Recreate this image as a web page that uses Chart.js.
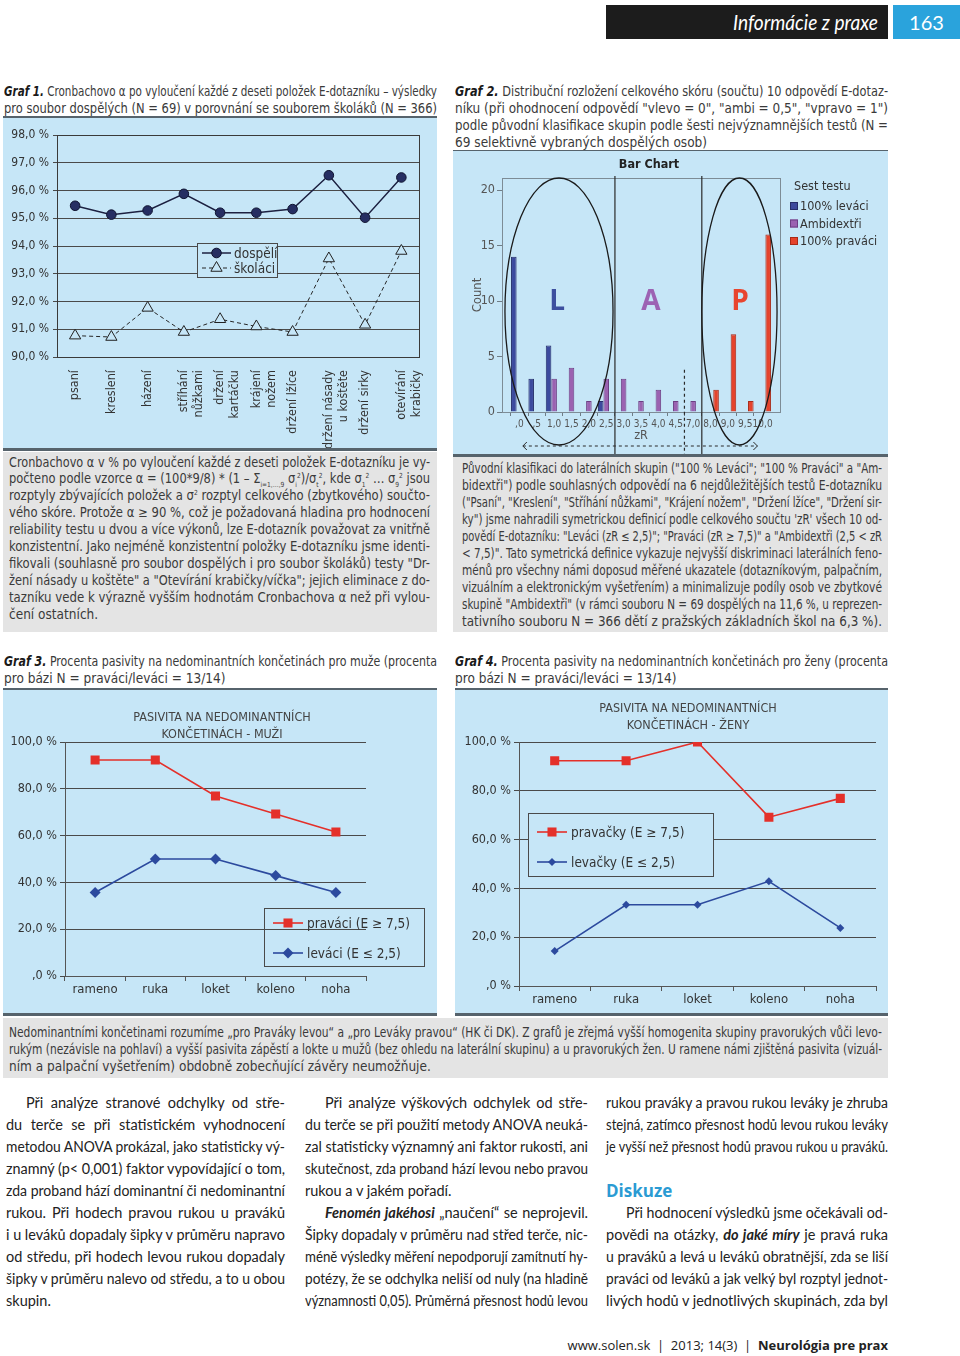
<!DOCTYPE html>
<html lang="cs">
<head>
<meta charset="utf-8">
<script src="https://cdn.jsdelivr.net/npm/chart.js@4.4.1/dist/chart.umd.min.js"></script>
<style>
  body { margin: 0; width: 960px; height: 1356px; position: relative; background: #fff; overflow: hidden;
         font-family: Lato, "Open Sans", sans-serif; color: #222; }
  .abs { position: absolute; }
  .blue { background: #c6e6f7; box-sizing: border-box; }
  .gray { background: #e4e4e4; }
  .cap { font-family: "Liberation Sans Narrow", "DejaVu Sans Condensed", Lato, sans-serif; font-size: 13.5px; color: #3a3a3a; }
  .cap b { color: #1a1a1a; }
  .body { font-size: 14.5px; color: #222; }
  .ln { white-space: nowrap; overflow: visible; }
  .ln > span { display: inline-block; transform-origin: 0 50%; }
  .ln sub, .ln sup { font-size: 7px; line-height: 0; }
  canvas { position: absolute; }
</style>
</head>
<body>

<div class="abs" style="left:606px;top:5px;width:282px;height:34px;background:#1c1c1c"></div>
<div class="abs" style="left:893px;top:5px;width:67px;height:34px;background:#2aa3dc"></div>
<div class="abs" style="left:893px;top:5px;width:67px;height:34px;line-height:34px;text-align:center;color:#fff;font-size:20px;font-family:'Liberation Sans Narrow',Lato,sans-serif">163</div>

<div class="abs blue" style="left:3px;top:116px;width:434px;height:335px;border-top:2px solid #56636c;border-bottom:3px solid #56636c"></div>
<div class="abs gray" style="left:3px;top:452px;width:434px;height:180px"></div>
<div class="abs blue" style="left:453px;top:150px;width:435px;height:307px;border-top:1px solid #56636c;border-bottom:3px solid #56636c"></div>
<div class="abs gray" style="left:453px;top:457px;width:435px;height:175px"></div>
<div class="abs blue" style="left:3px;top:688px;width:434px;height:328px;border-top:2px solid #56636c;border-bottom:3px solid #56636c"></div>
<div class="abs blue" style="left:455px;top:688px;width:433px;height:328px;border-top:2px solid #56636c;border-bottom:3px solid #56636c"></div>
<div class="abs gray" style="left:3px;top:1018px;width:885px;height:60px"></div>

<canvas id="c1" width="434" height="330" style="left:3px;top:118px"></canvas>
<canvas id="c2" width="435" height="303" style="left:453px;top:151px"></canvas>
<canvas id="c3" width="434" height="323" style="left:3px;top:690px"></canvas>
<canvas id="c4" width="433" height="323" style="left:455px;top:690px"></canvas>

<div class="abs" style="left:560px;top:1336px;width:328px;height:18px;line-height:18px;text-align:right;font-size:13px;color:#222;font-family:'Open Sans',sans-serif;white-space:nowrap">www.solen.sk&nbsp; | &nbsp;2013; 14(3)&nbsp; | &nbsp;<b>Neurológia pre prax</b></div>

<script>
// Graf 1 – Cronbachovo alfa
const g1Items = ['psaní', 'kreslení', 'házení', ['stříhání', 'nůžkami'], ['držení', 'kartáčku'],
                 ['krájení', 'nožem'], 'držení lžíce', ['držení násady', 'u koštěte'], 'držení sirky',
                 ['otevírání', 'krabičky']];
const g1Dospeli = [95.45, 95.13, 95.28, 95.88, 95.2, 95.2, 95.33, 96.55, 95.02, 96.47];
const g1Skolaci = [90.77, 90.72, 91.77, 90.9, 91.36, 91.1, 90.9, 93.55, 91.16, 93.82];

// Graf 2 – rozložení zR
const zRLabels = [',0', ',5', '1,0', '1,5', '2,0', '2,5', '3,0', '3,5', '4,0', '4,5', '7,0', '8,0', '9,0', '9,5', '10,0'];
const levaci100  = [14, 3, 6, 0, 0, 1, 0, 0, 0, 0, 0, 0, 0, 0, 0];
const ambidextri = [0, 0, 3, 4, 1, 3, 3, 1, 2, 1, 1, 0, 0, 0, 0];
const pravaci100 = [0, 0, 0, 0, 0, 0, 0, 0, 0, 0, 0, 2, 7, 1, 16];

// Graf 3 a 4 – pasivita
const limbs = ['rameno', 'ruka', 'loket', 'koleno', 'noha'];
const muziPravaci  = [92.3, 92.3, 76.9, 69.2, 61.5];
const muziLevaci   = [35.7, 50.0, 50.0, 42.9, 35.7];
const zenyPravacky = [92.3, 92.3, 100.0, 69.2, 76.9];
const zenyLevacky  = [14.3, 33.3, 33.3, 42.9, 23.8];

const BG = '#c6e6f7';
const NARROW = '"Liberation Sans Narrow", "DejaVu Sans Condensed", Lato, sans-serif';
const RED = '#e4302a', NAVY = '#2c4a9e';

Chart.defaults.font.family = NARROW;
Chart.defaults.color = '#333';
Chart.defaults.animation = false;
Chart.defaults.responsive = false;
Chart.defaults.plugins.legend.display = false;
Chart.defaults.plugins.tooltip.enabled = false;

const pct = v => (v === 0 ? ',0' : v.toFixed(1).replace('.', ',')) + ' %';

function marker(ctx, style, x, y, r, fill, stroke, lw) {
  ctx.save();
  ctx.beginPath();
  if (style === 'circle') {
    ctx.arc(x, y, r, 0, Math.PI * 2);
  } else if (style === 'triangle') {
    let a = 0;
    for (let k = 0; k < 3; k++) {
      const px = x + Math.sin(a) * r, py = y - Math.cos(a) * r;
      k ? ctx.lineTo(px, py) : ctx.moveTo(px, py);
      a += Math.PI * 2 / 3;
    }
    ctx.closePath();
  } else if (style === 'rect') {
    const s = Math.SQRT1_2 * r;
    ctx.rect(x - s, y - s, 2 * s, 2 * s);
  } else {
    ctx.moveTo(x - r, y); ctx.lineTo(x, y - r); ctx.lineTo(x + r, y); ctx.lineTo(x, y + r);
    ctx.closePath();
  }
  ctx.fillStyle = fill; ctx.fill();
  if (lw) { ctx.strokeStyle = stroke; ctx.lineWidth = lw; ctx.stroke(); }
  ctx.restore();
}

function legendBox(chart, box, fill, rows, font) {
  const ctx = chart.ctx;
  ctx.save();
  if (fill) { ctx.fillStyle = fill; ctx.fillRect(box[0], box[1], box[2], box[3]); }
  ctx.strokeStyle = '#4a4a4a'; ctx.lineWidth = 1;
  ctx.strokeRect(box[0] + 0.5, box[1] + 0.5, box[2], box[3]);
  rows.forEach(r => {
    const ds = chart.data.datasets[r.ds];
    ctx.strokeStyle = ds.borderColor; ctx.lineWidth = ds.borderWidth;
    ctx.setLineDash(ds.borderDash || []);
    ctx.beginPath(); ctx.moveTo(r.x0, r.y); ctx.lineTo(r.x1, r.y); ctx.stroke();
    ctx.setLineDash([]);
    marker(ctx, ds.pointStyle, (r.x0 + r.x1) / 2, r.y, ds.pointRadius, ds.pointBackgroundColor, ds.pointBorderColor, ds.pointBorderWidth);
    ctx.fillStyle = '#333'; ctx.font = font; ctx.textAlign = 'left'; ctx.textBaseline = 'middle';
    ctx.fillText(ds.label, r.tx, r.y + 1);
  });
  ctx.restore();
}

const framePlugin = {
  id: 'frame',
  beforeDatasetsDraw(chart, args, opts) {
    const a = chart.chartArea, c = chart.ctx;
    c.save();
    c.strokeStyle = opts.color; c.lineWidth = 1;
    c.strokeRect(Math.round(a.left) + 0.5, Math.round(a.top) + 0.5, Math.round(a.right - a.left), Math.round(a.bottom - a.top));
    c.restore();
  }
};

function titleLines(chart, lines, cx, y0, dy) {
  const c = chart.ctx;
  c.save();
  c.fillStyle = '#444'; c.font = '12.5px ' + NARROW; c.textAlign = 'center'; c.textBaseline = 'middle';
  lines.forEach((t, i) => c.fillText(t, cx, y0 + i * dy));
  c.restore();
}

// ---------- Graf 1
new Chart(document.getElementById('c1'), {
  type: 'line',
  data: {
    labels: g1Items,
    datasets: [
      { label: 'dospělí', data: g1Dospeli, borderColor: '#1c2040', borderWidth: 1.5,
        pointStyle: 'circle', pointRadius: 4.8, pointBackgroundColor: '#262e62',
        pointBorderColor: '#0f1330', pointBorderWidth: 1 },
      { label: 'školáci', data: g1Skolaci, borderColor: '#262626', borderWidth: 1, borderDash: [4, 3],
        pointStyle: 'triangle', pointRadius: 6.5, pointBackgroundColor: BG,
        pointBorderColor: '#222', pointBorderWidth: 1 }
    ]
  },
  options: {
    layout: { padding: { top: 17, right: 13, left: 0, bottom: 0 } },
    scales: {
      x: { offset: true, grid: { display: false }, border: { display: false },
           ticks: { autoSkip: false, minRotation: 90, maxRotation: 90, padding: 5, color: '#333', font: { size: 12.5 } },
           afterFit: s => { s.height = 91; } },
      y: { min: 90, max: 98, border: { display: false },
           grid: { color: '#4a4a4a', tickLength: 4 },
           ticks: { stepSize: 1, padding: 4, color: '#333', font: { size: 12 }, callback: v => pct(v) },
           afterFit: s => { s.width = 54; } }
    },
    plugins: { frame: { color: '#3a3a3a' } }
  },
  plugins: [framePlugin, {
    id: 'leg1',
    afterDraw(chart) {
      legendBox(chart, [194, 125, 80, 34], BG, [
        { ds: 0, y: 135, x0: 199, x1: 228, tx: 231 },
        { ds: 1, y: 150, x0: 199, x1: 228, tx: 231 }
      ], '13.5px ' + NARROW);
    }
  }]
});

// ---------- Graf 2
const pad = arr => [null, ...arr, null];
new Chart(document.getElementById('c2'), {
  type: 'bar',
  data: {
    labels: ['', ...zRLabels, ''],
    datasets: [
      { label: '100% leváci', data: pad(levaci100), backgroundColor: '#3c4a9e', borderColor: '#252e6a', borderWidth: 1 },
      { label: 'Ambidextři', data: pad(ambidextri), backgroundColor: '#9b62b1', borderColor: '#6d3f84', borderWidth: 1 },
      { label: '100% praváci', data: pad(pravaci100), backgroundColor: '#e5432c', borderColor: '#a92a18', borderWidth: 1 }
    ]
  },
  options: {
    categoryPercentage: 0.96, barPercentage: 1,
    layout: { padding: { top: 27, right: 108, left: 0, bottom: 0 } },
    scales: {
      x: { offset: false, border: { display: false },
           grid: { drawOnChartArea: false, tickLength: 4,
                   color: c => (c.index === 0 || c.index === zRLabels.length + 1) ? 'transparent' : '#6f7d86' },
           ticks: { autoSkip: false, maxRotation: 0, padding: 2, color: '#555', font: { size: 10 } },
           title: { display: true, text: 'zR', color: '#555', font: { size: 12.5 }, padding: { top: 0, bottom: 11 } },
           afterFit: s => { s.height = 42; } },
      y: { min: 0, max: 21.1, border: { display: false },
           grid: { drawOnChartArea: false, tickLength: 5, color: '#6f7d86' },
           ticks: { stepSize: 5, includeBounds: false, padding: 2, color: '#555', font: { size: 12.5 } },
           title: { display: true, text: 'Count', color: '#555', font: { size: 13 }, padding: { top: 17, bottom: 0 } },
           afterFit: s => { s.width = 49; } }
    },
    plugins: { frame: { color: '#7d8c96' } }
  },
  plugins: [framePlugin, {
    id: 'deco2',
    afterDraw(chart) {
      const { ctx, chartArea: a, scales: { x, y } } = chart;
      const xi = k => x.getPixelForValue(k + 1);
      ctx.save();
      ctx.fillStyle = '#222'; ctx.font = 'bold 12.5px ' + NARROW; ctx.textAlign = 'center'; ctx.textBaseline = 'middle';
      ctx.fillText('Bar Chart', 196, 14);
      // legenda
      ctx.font = '12.5px ' + NARROW; ctx.textAlign = 'left'; ctx.fillStyle = '#333';
      ctx.fillText('Sest testu', 341, 36);
      chart.data.datasets.forEach((ds, i) => {
        const yy = 55 + i * 17.5;
        ctx.fillStyle = ds.backgroundColor; ctx.fillRect(337, yy - 4, 8, 8);
        ctx.strokeStyle = ds.borderColor; ctx.lineWidth = 1; ctx.strokeRect(337.5, yy - 3.5, 7, 7);
        ctx.fillStyle = '#333'; ctx.fillText(ds.label, 347, yy + 1);
      });
      // hranice skupin
      const bottom = chart.height;
      ctx.strokeStyle = '#2a2a2a'; ctx.lineWidth = 1.2;
      [5.5, 10.5].forEach(k => {
        ctx.beginPath(); ctx.moveTo(xi(k), a.top - 2); ctx.lineTo(xi(k), bottom); ctx.stroke();
      });
      ctx.setLineDash([3, 3]);
      ctx.beginPath(); ctx.moveTo(xi(9.5), y.getPixelForValue(3.8)); ctx.lineTo(xi(9.5), bottom); ctx.stroke();
      // šipka dole
      const ay = 295;
      ctx.lineWidth = 1;
      ctx.beginPath(); ctx.moveTo(xi(0.2), ay); ctx.lineTo(xi(13.7), ay); ctx.stroke();
      ctx.setLineDash([]);
      ctx.beginPath();
      ctx.moveTo(xi(0.2) + 4, ay - 4); ctx.lineTo(xi(0.2), ay); ctx.lineTo(xi(0.2) + 4, ay + 4);
      ctx.moveTo(xi(13.7) - 4, ay - 4); ctx.lineTo(xi(13.7), ay); ctx.lineTo(xi(13.7) - 4, ay + 4);
      ctx.stroke();
      // elipsy
      const eTop = a.top, eBot = 294;
      ctx.lineWidth = 1.3; ctx.strokeStyle = '#1a1a1a';
      [[-0.83, 5.39], [10.5, 14.83]].forEach(([k0, k1]) => {
        const x0 = xi(k0), x1 = xi(k1);
        ctx.beginPath();
        ctx.ellipse((x0 + x1) / 2, (eTop + eBot) / 2, (x1 - x0) / 2, (eBot - eTop) / 2, 0, 0, Math.PI * 2);
        ctx.stroke();
      });
      // písmena
      ctx.font = 'bold 28px "Open Sans", sans-serif'; ctx.textAlign = 'center'; ctx.textBaseline = 'middle';
      [['L', 2.17, '#3d4f9f'], ['A', 7.57, '#9c63b3'], ['P', 12.7, '#e8452f']].forEach(([t, k, col]) => {
        ctx.fillStyle = col; ctx.fillText(t, xi(k), y.getPixelForValue(9.9));
      });
      ctx.restore();
    }
  }]
});

// ---------- Graf 3 a 4
function pasivita(id, dsR, dsL, labelR, labelL, o) {
  new Chart(document.getElementById(id), {
    type: 'line',
    data: {
      labels: limbs,
      datasets: [
        { label: labelR, data: dsR, borderColor: RED, borderWidth: 1.6, pointStyle: 'rect', pointRadius: 6.4,
          pointBackgroundColor: RED, pointBorderColor: RED, pointBorderWidth: 0 },
        { label: labelL, data: dsL, borderColor: NAVY, borderWidth: 1.6, pointStyle: 'rectRot', pointRadius: o.dia,
          pointBackgroundColor: NAVY, pointBorderColor: NAVY, pointBorderWidth: 0 }
      ]
    },
    options: {
      layout: { padding: { top: 52, right: o.right, left: 0, bottom: 0 } },
      scales: {
        x: { offset: true, border: { display: true, color: '#555' },
             grid: { offset: true, tickLength: 5, tickColor: '#555',
                     color: c => c.index === limbs.length ? '#555' : 'transparent' },
             ticks: { padding: 1, color: '#333', font: { size: 13 } },
             afterFit: s => { s.height = o.xh; } },
        y: { min: 0, max: 100, border: { display: true, color: '#555' },
             grid: { color: '#4a4a4a', tickLength: 5 },
             ticks: { stepSize: 20, padding: 3, color: '#333', font: { size: 12.5 }, callback: v => pct(v) },
             afterFit: s => { s.width = o.yw; } }
      }
    },
    plugins: [{
      id: 'deco_' + id,
      afterDraw(chart) {
        titleLines(chart, o.title, o.tx, o.ty, 17);
        legendBox(chart, o.box, o.fill, [
          { ds: 0, y: o.box[1] + o.r1, x0: o.box[0] + 9, x1: o.box[0] + 39, tx: o.box[0] + 43 },
          { ds: 1, y: o.box[1] + o.r2, x0: o.box[0] + 9, x1: o.box[0] + 39, tx: o.box[0] + 43 }
        ], '13.5px ' + NARROW);
      }
    }]
  });
}

pasivita('c3', muziPravaci, muziLevaci, 'praváci (E ≥ 7,5)', 'leváci (E ≤ 2,5)',
  { right: 71, xh: 37, yw: 62, dia: 5.5, title: ['PASIVITA NA NEDOMINANTNÍCH', 'KONČETINÁCH - MUŽI'],
    tx: 219, ty: 28, box: [261, 218, 160, 58], fill: null, r1: 15, r2: 45 });
pasivita('c4', zenyPravacky, zenyLevacky, 'pravačky (E ≥ 7,5)', 'levačky (E ≤ 2,5)',
  { right: 12, xh: 27, yw: 64, dia: 4, title: ['PASIVITA NA NEDOMINANTNÍCH', 'KONČETINÁCH - ŽENY'],
    tx: 233, ty: 19, box: [73, 123, 185, 63], fill: BG, r1: 19, r2: 49 });

// ---------- texty
const spans = [];
function block(x, y, w, lh, cls, lines) {
  const d = document.createElement('div');
  d.className = 'abs ' + cls;
  d.style.left = x + 'px'; d.style.top = y + 'px'; d.style.width = w + 'px'; d.style.lineHeight = lh + 'px';
  lines.forEach(t => {
    let ind = 0, last = false;
    if (t[0] === '>') { ind = 20; t = t.slice(1); }
    if (t.endsWith('|')) { last = true; t = t.slice(0, -1); }
    const ln = document.createElement('div');
    ln.className = 'ln'; ln.style.height = lh + 'px';
    const s = document.createElement('span');
    s.innerHTML = t || '&nbsp;'; s.style.marginLeft = ind + 'px';
    s._W = w - ind; s._last = last;
    ln.appendChild(s); d.appendChild(ln); spans.push(s);
  });
  document.body.appendChild(d);
}

block(733, 10, 145, 24, '', ['<i style="color:#fff;font-size:21px;font-family:\'Liberation Sans Narrow\',Lato,sans-serif">Informácie z praxe</i>|']);

block(4, 82.5, 433, 17, 'cap', [
  '<b><i>Graf 1.</i></b> Cronbachovo α po vyloučení každé z deseti položek E-dotazníku – výsledky',
  'pro soubor dospělých (N = 69) v porovnání se souborem školáků (N = 366)|'
]);
block(455, 82.5, 433, 17, 'cap', [
  '<b><i>Graf 2.</i></b> Distribuční rozložení celkového skóru (součtu) 10 odpovědí E-dotaz-',
  'níku (při ohodnocení odpovědí "vlevo = 0", "ambi = 0,5", "vpravo = 1")',
  'podle původní klasifikace skupin podle šesti nejvýznamnějších testů (N =',
  '69 selektivně vybraných dospělých osob)|'
]);
block(9, 453.5, 421, 16.9, 'cap', [
  'Cronbachovo α v % po vyloučení každé z deseti položek E-dotazníku je vy-',
  'počteno podle vzorce α = (100*9/8) * (1 – Σ<sub>i=1,…,9</sub> σ<sub>i</sub><sup>2</sup>)/σ<sub>t</sub><sup>2</sup>, kde σ<sub>1</sub><sup>2</sup> … σ<sub>9</sub><sup>2</sup> jsou',
  'rozptyly zbývajících položek a σ<sup>2</sup> rozptyl celkového (zbytkového) součto-',
  'vého skóre. Protože α ≥ 90 %, což je požadovaná hladina pro hodnocení',
  'reliability testu u dvou a více výkonů, lze E-dotazník považovat za vnitřně',
  'konzistentní. Jako nejméně konzistentní položky E-dotazníku jsme identi-',
  'fikovali (souhlasně pro soubor dospělých i pro soubor školáků) testy "Dr-',
  'žení násady u koštěte" a "Otevírání krabičky/víčka"; jejich eliminace z do-',
  'tazníku vede k výrazně vyšším hodnotám Cronbachova α než při vylou-',
  'čení ostatních.|'
]);
block(462, 459.5, 420, 17, 'cap', [
  'Původní klasifikaci do laterálních skupin ("100 % Leváci"; "100 % Praváci" a "Am-',
  'bidextři") podle souhlasných odpovědí na 6 nejdůležitějších testů E-dotazníku',
  '("Psaní", "Kreslení", "Stříhání nůžkami", "Krájení nožem", "Držení lžíce", "Držení sir-',
  'ky") jsme nahradili symetrickou definicí podle celkového součtu \'zR\' všech 10 od-',
  'povědí E-dotazníku: "Leváci (zR ≤ 2,5)"; "Praváci (zR ≥ 7,5)" a "Ambidextři (2,5 < zR',
  '< 7,5)". Tato symetrická definice vykazuje nejvyšší diskriminaci laterálních feno-',
  'ménů pro všechny námi doposud měřené ukazatele (dotazníkovým, palpačním,',
  'vizuálním a elektronickým vyšetřením) a minimalizuje podíly osob ve zbytkové',
  'skupině "Ambidextři" (v rámci souboru N = 69 dospělých na 11,6 %, u reprezen-',
  'tativního souboru N = 366 dětí z pražských základních škol na 6,3 %).|'
]);
block(4, 652.5, 433, 17, 'cap', [
  '<b><i>Graf 3.</i></b> Procenta pasivity na nedominantních končetinách pro muže (procenta',
  'pro bázi N = praváci/leváci = 13/14)|'
]);
block(455, 652.5, 433, 17, 'cap', [
  '<b><i>Graf 4.</i></b> Procenta pasivity na nedominantních končetinách pro ženy (procenta',
  'pro bázi N = praváci/leváci = 13/14)|'
]);
block(9, 1023.5, 873, 17, 'cap', [
  'Nedominantními končetinami rozumíme „pro Praváky levou“ a „pro Leváky pravou“ (HK či DK). Z grafů je zřejmá vyšší homogenita skupiny pravorukých vůči levo-',
  'rukým (nezávisle na pohlaví) a vyšší pasivita zápěstí a lokte u mužů (bez ohledu na laterální skupinu) a u pravorukých žen. U ramene námi zjištěná pasivita (vizuál-',
  'ním a palpační vyšetřením) obdobně zobecňující závěry neumožňuje.|'
]);

block(6, 1092, 279, 22, 'body', [
  '>Při analýze stranové odchylky od stře-',
  'du terče se při statistickém vyhodnocení',
  'metodou ANOVA prokázal, jako statisticky vý-',
  'znamný (p< 0,001) faktor vypovídající o tom,',
  'zda proband hází dominantní či nedominantní',
  'rukou. Při hodech pravou rukou u praváků',
  'i u leváků dopadaly šipky v průměru napravo',
  'od středu, při hodech levou rukou dopadaly',
  'šipky v průměru nalevo od středu, a to u obou',
  'skupin.|'
]);
block(305, 1092, 283, 22, 'body', [
  '>Při analýze výškových odchylek od stře-',
  'du terče se při použití metody ANOVA neuká-',
  'zal statisticky významný ani faktor rukosti, ani',
  'skutečnost, zda proband hází levou nebo pravou',
  'rukou a v jakém pořadí.|',
  '><b><i>Fenomén jakéhosi</i></b> „naučení“ se neprojevil.',
  'Šipky dopadaly v průměru nad střed terče, nic-',
  'méně výsledky měření nepodporují zamítnutí hy-',
  'potézy, že se odchylka neliší od nuly (na hladině',
  'významnosti 0,05). Průměrná přesnost hodů levou'
]);
block(606, 1092, 282, 22, 'body', [
  'rukou praváky a pravou rukou leváky je zhruba',
  'stejná, zatímco přesnost hodů levou rukou leváky',
  'je vyšší než přesnost hodů pravou rukou u praváků.',
  '|',
  '<b style="color:#2b9bd3;font-size:17px;font-family:\'Open Sans\',sans-serif">Diskuze</b>|',
  '>Při hodnocení výsledků jsme očekávali od-',
  'povědi na otázky, <b><i>do jaké míry</i></b> je pravá ruka',
  'u praváků a levá u leváků obratnější, zda se liší',
  'praváci od leváků a jak velký byl rozptyl jednot-',
  'livých hodů v jednotlivých skupinách, zda byl'
]);

function fit() {
  spans.forEach(s => {
    s.style.transform = ''; s.style.wordSpacing = '';
    const w = s.getBoundingClientRect().width;
    if (w > s._W) {
      s.style.transform = 'scaleX(' + (s._W / w) + ')';
    } else if (!s._last) {
      const n = (s.textContent.match(/ /g) || []).length;
      if (n) s.style.wordSpacing = ((s._W - w) / n) + 'px';
    }
  });
}
fit();
if (document.fonts) document.fonts.ready.then(fit);
</script>
</body>
</html>
